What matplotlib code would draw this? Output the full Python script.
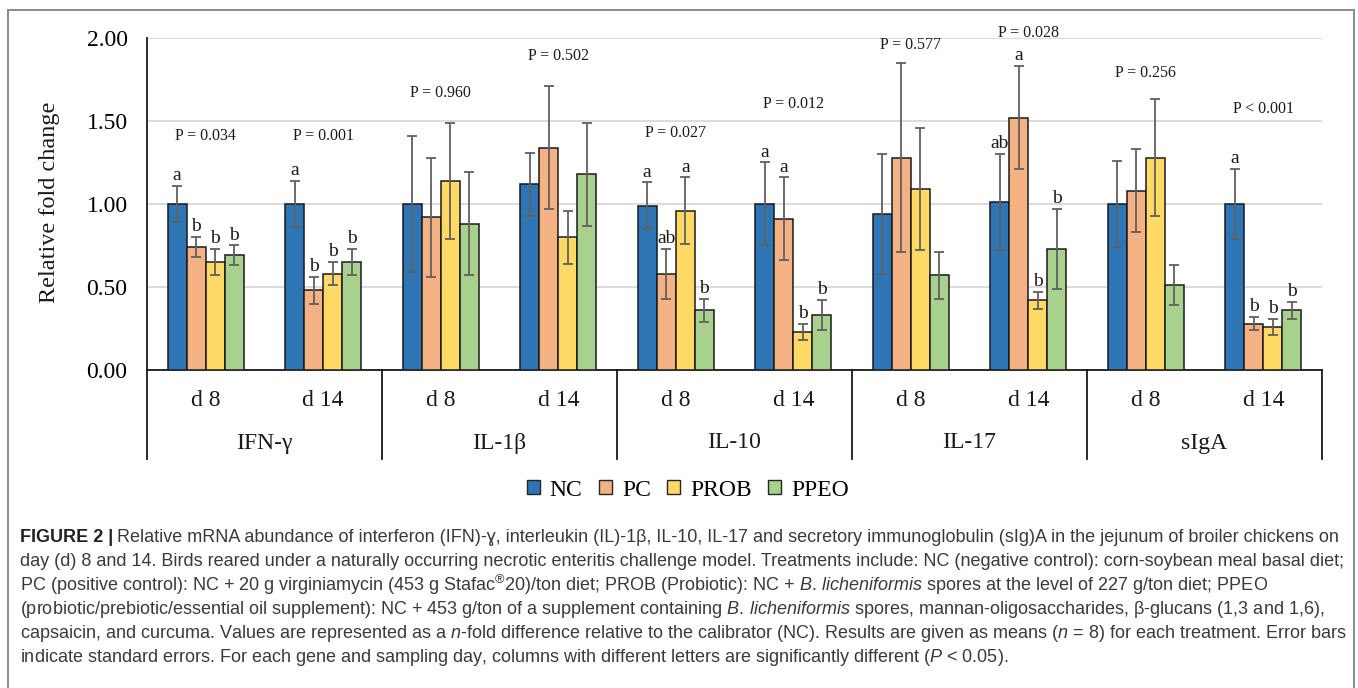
import matplotlib
matplotlib.use("Agg")
import numpy as np
import matplotlib.pyplot as plt
import matplotlib.transforms as mtransforms
from matplotlib import font_manager as fm
from matplotlib.patches import Patch, Rectangle
from matplotlib.lines import Line2D

# ---------------- data ----------------
genes = ["IFN-γ", "IL-1β", "IL-10", "IL-17", "sIgA"]
days = ["d 8", "d 14"]
treatments = ["NC", "PC", "PROB", "PPEO"]

# means per gene/day (IFN d8, IFN d14, IL-1β d8, IL-1β d14, ... sIgA d14)
nc_mean = [1.00, 1.00, 1.00, 1.12, 0.99, 1.00, 0.94, 1.01, 1.00, 1.00]
pc_mean = [0.74, 0.48, 0.92, 1.34, 0.58, 0.91, 1.28, 1.52, 1.08, 0.28]
prob_mean = [0.65, 0.58, 1.14, 0.80, 0.96, 0.23, 1.09, 0.42, 1.28, 0.26]
ppeo_mean = [0.69, 0.65, 0.88, 1.18, 0.36, 0.33, 0.57, 0.73, 0.51, 0.36]

# standard errors
nc_se = [0.11, 0.14, 0.41, 0.19, 0.14, 0.25, 0.36, 0.29, 0.26, 0.21]
pc_se = [0.06, 0.08, 0.36, 0.37, 0.15, 0.25, 0.57, 0.31, 0.25, 0.04]
prob_se = [0.08, 0.07, 0.35, 0.16, 0.20, 0.05, 0.37, 0.05, 0.35, 0.05]
ppeo_se = [0.06, 0.08, 0.31, 0.31, 0.07, 0.09, 0.14, 0.24, 0.12, 0.05]

# significance letters
nc_letters = ["a", "a", "", "", "a", "a", "", "ab", "", "a"]
pc_letters = ["b", "b", "", "", "ab", "a", "", "a", "", "b"]
prob_letters = ["b", "b", "", "", "a", "b", "", "b", "", "b"]
ppeo_letters = ["b", "b", "", "", "b", "b", "", "b", "", "b"]

p_labels = ["P = 0.034", "P = 0.001", "P = 0.960", "P = 0.502", "P = 0.027",
            "P = 0.012", "P = 0.577", "P = 0.028", "P = 0.256", "P < 0.001"]

# ---------------- layout / style ----------------
p_label_height = [1.41, 1.41, 1.67, 1.89, 1.43, 1.60, 1.96, 2.03, 1.79, 1.57]
colors = ["#2E75B6", "#F4B183", "#FFD966", "#A9D18E"]

W, H = 1358, 688
plt.rcParams["font.family"] = ["Liberation Serif", "DejaVu Serif"]

installed = {f.name for f in fm.fontManager.ttflist}
cap_font = "Liberation Sans Narrow" if "Liberation Sans Narrow" in installed else "Liberation Sans"
plt.rcParams["mathtext.fontset"] = "custom"
plt.rcParams["mathtext.rm"] = cap_font
plt.rcParams["mathtext.it"] = cap_font + ":italic"
plt.rcParams["mathtext.bf"] = cap_font + ":bold"

fig = plt.figure(figsize=(W / 100, H / 100), dpi=100)
ax = fig.add_axes([147 / W, 1 - 370 / H, (1322 - 147) / W, (370 - 38) / H])

x = np.arange(len(genes) * len(days))
bw = 0.1625
series = [
    (nc_mean, nc_se, nc_letters),
    (pc_mean, pc_se, pc_letters),
    (prob_mean, prob_se, prob_letters),
    (ppeo_mean, ppeo_se, ppeo_letters),
]
for i, (m, s, lets) in enumerate(series):
    pos = x + (i - 1.5) * bw
    ax.bar(pos, m, bw, color=colors[i], edgecolor="#1a1a1a", linewidth=1.1, zorder=3)
    ax.errorbar(pos, m, yerr=s, fmt="none", ecolor="#606060", elinewidth=1.3,
                capsize=3.5, capthick=1.3, zorder=4)
    for xp, mv, sv, lt in zip(pos, m, s, lets):
        if lt:
            ax.text(xp, mv + sv + 0.035, lt, ha="center", va="baseline",
                    fontsize=14, color="#1a1a1a", zorder=5)

for xi, lab, yh in zip(x, p_labels, p_label_height):
    ax.text(xi, yh, lab, ha="center", va="center", fontsize=11.5,
            color="#1a1a1a", clip_on=False)

ax.set_xlim(-0.5, len(x) - 0.5)
ax.set_ylim(0, 2.0)
ax.set_yticks([0, 0.5, 1.0, 1.5, 2.0])
ax.set_yticklabels([f"{v:.2f}" for v in [0, 0.5, 1.0, 1.5, 2.0]], fontsize=17)
ax.tick_params(axis="y", length=0, pad=14)
ax.set_xticks([])
ax.yaxis.grid(True, color="#d9d9d9", linewidth=1.3)
ax.set_axisbelow(True)
for side in ["top", "right"]:
    ax.spines[side].set_visible(False)
for side in ["left", "bottom"]:
    ax.spines[side].set_color("#1a1a1a")
    ax.spines[side].set_linewidth(1.3)

fig.text(50 / W, 1 - 202 / H, "Relative fold change", rotation=90,
         ha="center", va="center", fontsize=17.5, color="#1a1a1a")

# two-level category axis
trans = mtransforms.blended_transform_factory(ax.transData, fig.transFigure)
for xi in x:
    fig.text(xi, 1 - 400 / H, days[xi % 2], transform=trans, ha="center",
             va="center", fontsize=17, color="#1a1a1a")
for g, name in enumerate(genes):
    fig.text(2 * g + 0.5, 1 - 443 / H, name, transform=trans, ha="center",
             va="center", fontsize=17, color="#1a1a1a")
for k in range(len(genes) + 1):
    xs = -0.5 + 2 * k
    fig.add_artist(Line2D([xs, xs], [1 - 370 / H, 1 - 459 / H], transform=trans,
                          color="#1a1a1a", linewidth=1.3))

handles = [Patch(facecolor=c, edgecolor="#262626", linewidth=1.0) for c in colors]
fig.legend(handles, treatments, loc="center", bbox_to_anchor=(688 / W, 1 - 490 / H),
           ncol=4, frameon=False, fontsize=17, handlelength=0.55, handleheight=0.55,
           handletextpad=0.42, columnspacing=0.7)

# outer frame
fig.add_artist(Rectangle((8 / W, -0.05), (1354 - 8) / W, 1.05 - 10 / H,
                         transform=fig.transFigure, fill=False,
                         edgecolor="#8a8a8a", linewidth=1.4))

# caption
cap_color = "#3a3a3a"
lines = [
    "Relative mRNA abundance of interferon (IFN)-ɣ, interleukin (IL)-1β, IL-10, IL-17 and secretory immunoglobulin (sIg)A in the jejunum of broiler chickens on",
    "day (d) 8 and 14. Birds reared under a naturally occurring necrotic enteritis challenge model. Treatments include: NC (negative control): corn-soybean meal basal diet;",
    r"PC (positive control): NC + 20 g virginiamycin (453 g Stafac$^{\mathrm{®}}$20)/ton diet; PROB (Probiotic): NC + $\mathit{B.\,licheniformis}$ spores at the level of 227 g/ton diet; PPEO",
    r"(probiotic/prebiotic/essential oil supplement): NC + 453 g/ton of a supplement containing $\mathit{B.\,licheniformis}$ spores, mannan-oligosaccharides, β-glucans (1,3 and 1,6),",
    r"capsaicin, and curcuma. Values are represented as a $\mathit{n}$-fold difference relative to the calibrator (NC). Results are given as means ($\mathit{n}$ = 8) for each treatment. Error bars",
    r"indicate standard errors. For each gene and sampling day, columns with different letters are significantly different ($\mathit{P}$ < 0.05).",
]
renderer = fig.canvas.get_renderer()
probe = fig.text(0, 0, lines[1], fontsize=10, family=[cap_font, "DejaVu Sans"])
pw = probe.get_window_extent(renderer).width
probe.remove()
cap_size = 10 * (1345 - 20) / pw

x0 = 20 / W
ys = [537, 561, 585, 610, 634, 658]
head = fig.text(x0, 1 - ys[0] / H, "FIGURE 2 |", fontsize=cap_size, weight="bold",
                family=[cap_font, "DejaVu Sans"], color="#222222", va="center")
hw = head.get_window_extent(renderer).width
for i, (ln, yy) in enumerate(zip(lines, ys)):
    xx = x0 + ((hw + cap_size * 0.3) / W if i == 0 else 0)
    fig.text(xx, 1 - yy / H, ln, fontsize=cap_size, family=[cap_font, "DejaVu Sans"],
             color=cap_color, va="center")

fig.savefig("out.png", dpi=100)
